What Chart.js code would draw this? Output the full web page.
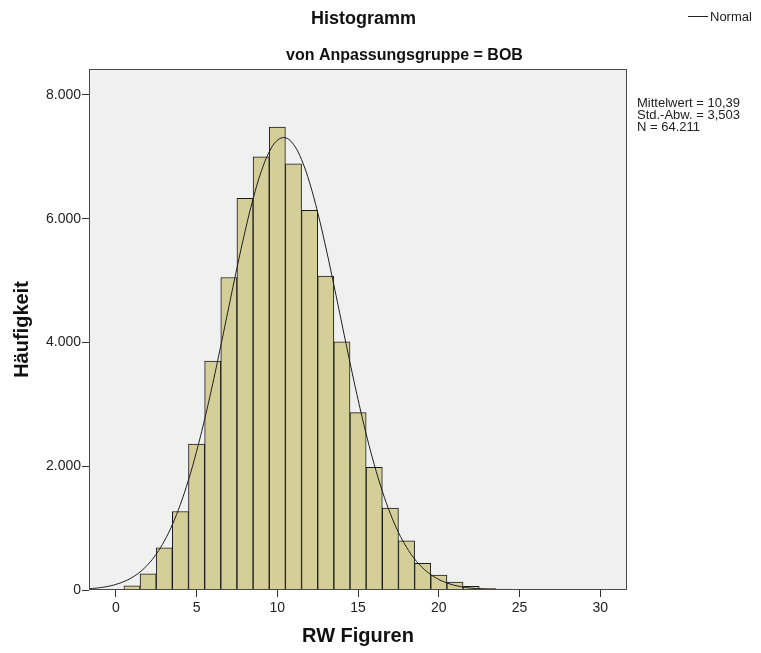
<!DOCTYPE html>
<html>
<head>
<meta charset="utf-8">
<script src="https://cdn.jsdelivr.net/npm/chart.js@4.4.1/dist/chart.umd.min.js"></script>
<style>
  html, body { margin: 0; padding: 0; background: #ffffff; }
  #wrap { width: 761px; height: 653px; position: relative; }
</style>
</head>
<body>
<div id="wrap"><canvas id="c" width="761" height="653"></canvas></div>
<script>
// ---- data ----
const chartTitle = "Histogramm";
const chartSubtitle = "von Anpassungsgruppe = BOB";
const xAxisTitle = "RW Figuren";
const yAxisTitle = "Häufigkeit";
const legendLabel = "Normal";
const statsLines = ["Mittelwert = 10,39", "Std.-Abw. = 3,503", "N = 64.211"];

// histogram bins (bin centres, width 1)
const binCenters = [0, 1, 2, 3, 4, 5, 6, 7, 8, 9, 10, 11, 12, 13, 14, 15, 16, 17, 18, 19, 20, 21, 22, 23, 24, 25, 26, 27, 28, 29, 30, 31];
const binCounts  = [5, 67, 263, 682, 1268, 2358, 3698, 5050, 6330, 7000, 7480, 6888, 6134, 5073, 4011, 2866, 1983, 1324, 793, 430, 240, 128, 61, 28, 15, 8, 5, 4, 3, 2, 1, 1];

// normal curve
const curveX = [-1.6, -1, -0.5, 0, 0.5, 1, 1.5, 2, 2.5, 3, 3.5, 4, 4.5, 5, 5.5, 6, 6.5, 7, 7.5, 8, 8.5, 9, 9.5, 10, 10.5, 11, 11.5, 12, 12.5, 13, 13.5, 14, 14.5, 15, 15.5, 16, 16.5, 17, 17.5, 18, 18.5, 19, 19.5, 20, 20.5, 21, 21.5, 22, 23, 24, 25, 26, 28, 31.6];
const curveY = [21, 37, 58, 90, 136, 201, 292, 415, 579, 790, 1057, 1385, 1779, 2239, 2760, 3334, 3947, 4579, 5203, 5794, 6322, 6760, 7080, 7268, 7309, 7203, 6955, 6580, 6100, 5540, 4931, 4300, 3674, 3076, 2523, 2029, 1598, 1233, 932, 691, 501, 357, 249, 170, 114, 74, 48, 30, 11, 4, 1, 0, 0, 0];

const xTicks = [0, 5, 10, 15, 20, 25, 30];
const yTicks = [0, 2000, 4000, 6000, 8000];
const xRange = [-1.66, 31.65];
const yRange = [0, 8420];

// ---- helpers ----
function deFormat(v) {
  return String(Math.round(v)).replace(/\B(?=(\d{3})+(?!\d))/g, ".");
}

const FONT = "'Liberation Sans', Arial, sans-serif";

const decorPlugin = {
  id: 'decor',
  beforeDatasetsDraw(chart) {
    const { ctx, chartArea: a } = chart;
    ctx.save();
    ctx.fillStyle = '#f0f0f0';
    ctx.fillRect(a.left, a.top, a.right - a.left, a.bottom - a.top);
    ctx.restore();
  },
  afterDatasetsDraw(chart) {
    const { ctx, chartArea: a } = chart;
    ctx.save();
    ctx.strokeStyle = '#4a4a4a';
    ctx.lineWidth = 1;
    ctx.strokeRect(Math.round(a.left) + 0.5, Math.round(a.top) + 0.5,
                   Math.round(a.right - a.left) - 1, Math.round(a.bottom - a.top) - 1);
    ctx.restore();
  },
  afterDraw(chart) {
    const { ctx } = chart;
    ctx.save();
    ctx.fillStyle = '#111';
    ctx.textAlign = 'left';
    ctx.textBaseline = 'middle';
    ctx.font = "bold 18px " + FONT;
    ctx.fillText(chartTitle, 311, 19);
    ctx.font = "bold 16px " + FONT;
    ctx.fillText(chartSubtitle, 286, 56);

    // legend
    ctx.strokeStyle = '#222';
    ctx.lineWidth = 1;
    ctx.beginPath();
    ctx.moveTo(688, 16.5);
    ctx.lineTo(708, 16.5);
    ctx.stroke();
    ctx.font = "13px " + FONT;
    ctx.fillStyle = '#222';
    ctx.fillText(legendLabel, 710, 17);

    // stats
    ctx.font = "13px " + FONT;
    statsLines.forEach((t, i) => ctx.fillText(t, 637, 103 + i * 12));
    ctx.restore();
  }
};

const ctx = document.getElementById('c').getContext('2d');
new Chart(ctx, {
  type: 'bar',
  data: {
    datasets: [
      {
        type: 'line',
        label: legendLabel,
        data: curveX.map((x, i) => ({ x: x, y: curveY[i] })),
        borderColor: '#1e1e1e',
        borderWidth: 1,
        pointRadius: 0,
        tension: 0.4,
        fill: false,
        order: 0
      },
      {
        type: 'bar',
        label: 'Häufigkeit',
        data: binCenters.map((x, i) => ({ x: x, y: binCounts[i] })),
        backgroundColor: '#d4cf98',
        borderColor: '#1a1a1a',
        borderWidth: 1,
        barPercentage: 1,
        categoryPercentage: 1,
        order: 1
      }
    ]
  },
  options: {
    responsive: false,
    animation: false,
    devicePixelRatio: 1,
    layout: { padding: { left: 0, top: 69, right: 134, bottom: 0 } },
    plugins: {
      legend: { display: false },
      tooltip: { enabled: false },
      title: { display: false }
    },
    scales: {
      x: {
        type: 'linear',
        min: xRange[0],
        max: xRange[1],
        offset: false,
        afterBuildTicks(scale) { scale.ticks = xTicks.map(v => ({ value: v })); },
        afterFit(scale) { scale.height = 63; },
        grid: { display: true, offset: false, drawOnChartArea: false, drawTicks: true, tickLength: 7, color: '#333', tickWidth: 1 },
        border: { display: false },
        ticks: { color: '#222', font: { family: FONT, size: 14 }, padding: 3, maxRotation: 0, autoSkip: false },
        title: { display: true, text: xAxisTitle, color: '#111', font: { family: FONT, size: 20, weight: 'bold' }, padding: { top: 4, bottom: 5 } }
      },
      y: {
        type: 'linear',
        min: yRange[0],
        max: yRange[1],
        afterBuildTicks(scale) { scale.ticks = yTicks.map(v => ({ value: v })); },
        afterFit(scale) { scale.width = 89; },
        grid: { display: true, drawOnChartArea: false, drawTicks: true, tickLength: 7, color: '#333', tickWidth: 1 },
        border: { display: false },
        ticks: { color: '#222', font: { family: FONT, size: 14 }, padding: 1, callback: v => deFormat(v) },
        title: { display: true, text: yAxisTitle, color: '#111', font: { family: FONT, size: 20, weight: 'bold' }, padding: { top: 10, bottom: 4 } }
      }
    }
  },
  plugins: [decorPlugin]
});
</script>
</body>
</html>
